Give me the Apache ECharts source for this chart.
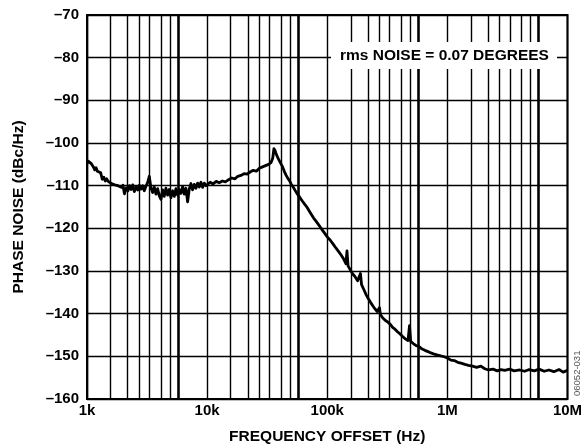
<!DOCTYPE html>
<html>
<head>
<meta charset="utf-8">
<script src="https://cdn.jsdelivr.net/npm/echarts@6/dist/echarts.min.js"></script>
<style>
html,body{margin:0;padding:0;background:#fff;overflow:hidden;}
#c{width:581px;height:445px;}
</style>
</head>
<body>
<div id="c"></div>
<script>
// Frequency offsets (Hz)
var freqs = [1000,1030,1060,1090,1130,1160,1190,1220,1260,1300,1340,1380,1420,1460,
1500,1550,1600,1650,1700,1750,1810,1870,1930,1990,2050,2120,2190,2260,2330,2400,2480,2560,2640,2730,2820,2910,3000,3100,3200,3300,3410,3520,3630,3750,3870,4000,4130,4260,4400,4540,4690,4840,5000,5160,5330,5500,5680,5860,6050,6250,6450,6660,6880,7100,7330,7570,7810,8070,8330,8600,8880,9170,9470,9780,
10000,10600,11200,11900,12600,13400,14200,15100,16000,17000,18000,19100,20300,21500,22800,24200,25700,27200,28900,30600,32500,34000,35200,36000,36800,37600,38400,39300,40200,41200,42500,44000,45500,47000,48500,50000,52000,54000,56500,59000,62000,65000,68000,71000,74000,77000,80000,84000,88000,92000,96000,
100000,106000,112000,118000,124000,130000,137000,143000,146000,149000,156000,163000,171000,179000,185000,189000,193000,202000,211000,220000,229000,240000,250000,261000,272000,277000,290000,305000,320000,335000,350000,368000,386000,406000,426000,447000,470000,484000,495000,520000,550000,580000,610000,650000,690000,730000,780000,830000,880000,940000,
1000000,1070000,1140000,1220000,1300000,1400000,1500000,1620000,1750000,1900000,2050000,2200000,2400000,2600000,2800000,3000000,3300000,3600000,4000000,4400000,4800000,5300000,5800000,6400000,7000000,7700000,8500000,9200000,10000000];
// Phase noise (dBc/Hz)
var noise = [-104.8,-104.3,-104.0,-104.9,-105.6,-106.3,-105.8,-106.6,-106.2,-107.0,-108.5,-108.0,-108.9,-108.4,
-109.0,-108.6,-109.5,-109.1,-109.8,-109.4,-110.0,-109.6,-110.4,-109.9,-111.9,-110.5,-111.2,-110.0,-110.9,-109.8,-111.4,-110.3,-111.0,-109.9,-110.8,-110.0,-111.2,-110.1,-109.2,-107.8,-110.6,-111.6,-110.3,-112.0,-110.7,-112.4,-113.2,-111.0,-112.5,-110.6,-112.2,-110.9,-112.8,-111.2,-112.5,-110.7,-112.2,-110.9,-111.8,-110.2,-112.0,-110.6,-113.8,-110.8,-109.5,-111.0,-109.7,-110.6,-109.4,-110.3,-109.2,-110.4,-109.4,-110.0,
-109.8,-109.2,-109.6,-109.0,-109.3,-108.9,-109.1,-108.6,-108.2,-108.4,-107.8,-107.6,-107.2,-107.3,-106.8,-106.4,-106.6,-105.9,-105.6,-105.3,-105.0,-104.6,-103.5,-101.3,-101.8,-102.6,-102.2,-103.8,-104.0,-104.9,-105.6,-106.7,-107.6,-108.3,-108.8,-109.6,-110.3,-111.1,-112.0,-112.7,-113.6,-114.4,-115.1,-116.0,-116.8,-117.6,-118.2,-119.0,-119.8,-120.6,-121.3,
-122.0,-122.8,-123.7,-124.6,-125.4,-126.2,-127.2,-128.3,-125.3,-128.8,-129.8,-130.7,-131.4,-132.3,-132.0,-130.6,-133.2,-134.4,-135.6,-136.5,-137.3,-138.2,-138.9,-139.5,-138.6,-140.2,-141.0,-141.6,-142.0,-142.5,-143.2,-143.7,-144.3,-144.8,-145.4,-145.9,-146.3,-142.8,-146.5,-147.0,-147.5,-147.7,-148.2,-148.6,-148.9,-149.2,-149.5,-149.7,-149.9,-150.1,
-150.4,-150.9,-151.0,-151.4,-151.6,-151.9,-152.1,-152.3,-152.6,-152.3,-152.9,-153.2,-153.0,-153.4,-153.1,-153.3,-153.0,-153.4,-153.2,-153.5,-153.1,-153.4,-153.0,-153.5,-153.2,-153.6,-153.1,-153.7,-153.3];
// Vertical grid line frequencies (as drawn on the original plot)
var gridFreqs = [1570,2180,2710,3310,4140,4890,15700,21800,27100,33100,41400,48900,157000,218000,271000,331000,414000,489000,1570000,2180000,2710000,3310000,4140000,4890000];
var heavyGridFreqs = [5730,57300,573000,5730000];
var xTickValues = [1000,10000,100000,1000000,10000000];
var xTickLabels = ['1k','10k','100k','1M','10M'];
var yMin = -160, yMax = -70, yStep = 10;

var chart = echarts.init(document.getElementById('c'), null, {renderer:'canvas'});
var FONT = '"Liberation Sans", Arial, Helvetica, sans-serif';

var lineData = freqs.map(function(f,i){return [f, noise[i]];});
var mlData = gridFreqs.map(function(f){return {xAxis:f, lineStyle:{width:1.4}};})
  .concat(heavyGridFreqs.map(function(f){return {xAxis:f, lineStyle:{width:2.6}};}));

chart.setOption({
  animation:false,
  backgroundColor:'#fff',
  grid:{left:87, right:13.5, top:15, bottom:46, containLabel:false, outerBoundsMode:'none',
        show:true, borderColor:'#000', borderWidth:2, backgroundColor:'transparent', z:4},
  xAxis:{
    type:'log', logBase:10, min:1000, max:10000000,
    name:'FREQUENCY OFFSET (Hz)', nameLocation:'middle', nameGap:30,
    nameTextStyle:{fontFamily:FONT, fontWeight:'bold', fontSize:15.5, color:'#000'},
    axisLine:{show:false}, axisTick:{show:false},
    axisLabel:{fontFamily:FONT, fontWeight:'bold', fontSize:15, color:'#000', margin:4,
      formatter:function(v){var i=xTickValues.indexOf(Math.round(v)); return i>=0?xTickLabels[i]:'';}},
    splitLine:{show:true, lineStyle:{color:'#000', width:1.4}},
    minorTick:{show:false}, minorSplitLine:{show:false}
  },
  yAxis:{
    type:'value', min:yMin, max:yMax, interval:yStep,
    name:'PHASE NOISE (dBc/Hz)', nameLocation:'middle', nameGap:60, nameRotate:90,
    nameTextStyle:{fontFamily:FONT, fontWeight:'bold', fontSize:15.5, color:'#000'},
    axisLine:{show:false}, axisTick:{show:false},
    axisLabel:{fontFamily:FONT, fontWeight:'bold', fontSize:15, color:'#000', margin:8,
      formatter:function(v){return String(v).replace('-','\u2013');}},
    splitLine:{show:true, lineStyle:{color:'#000', width:1.4}}
  },
  series:[
    {type:'line', data:[], z:1, silent:true,
     markLine:{silent:true, symbol:['none','none'], label:{show:false}, animation:false,
       lineStyle:{color:'#000', type:'solid', width:1.4}, data:mlData}},
    {type:'line', data:lineData, showSymbol:false, symbol:'none', z:3, silent:true,
     lineStyle:{color:'#000', width:2.8, join:'round'}}
  ],
  graphic:[
    {type:'rect', z:10, shape:{x:331, y:42, width:226, height:27}, style:{fill:'#fff'}},
    {type:'text', z:11, left:340, top:48, style:{text:'rms NOISE = 0.07 DEGREES', font:'bold 15.5px '+FONT, fill:'#000'}},
    {type:'text', z:11, x:572, y:396, rotation:Math.PI/2, style:{text:'06052-031', font:'9.5px '+FONT, fill:'#555', textVerticalAlign:'top'}}
  ]
});
</script>
</body>
</html>
